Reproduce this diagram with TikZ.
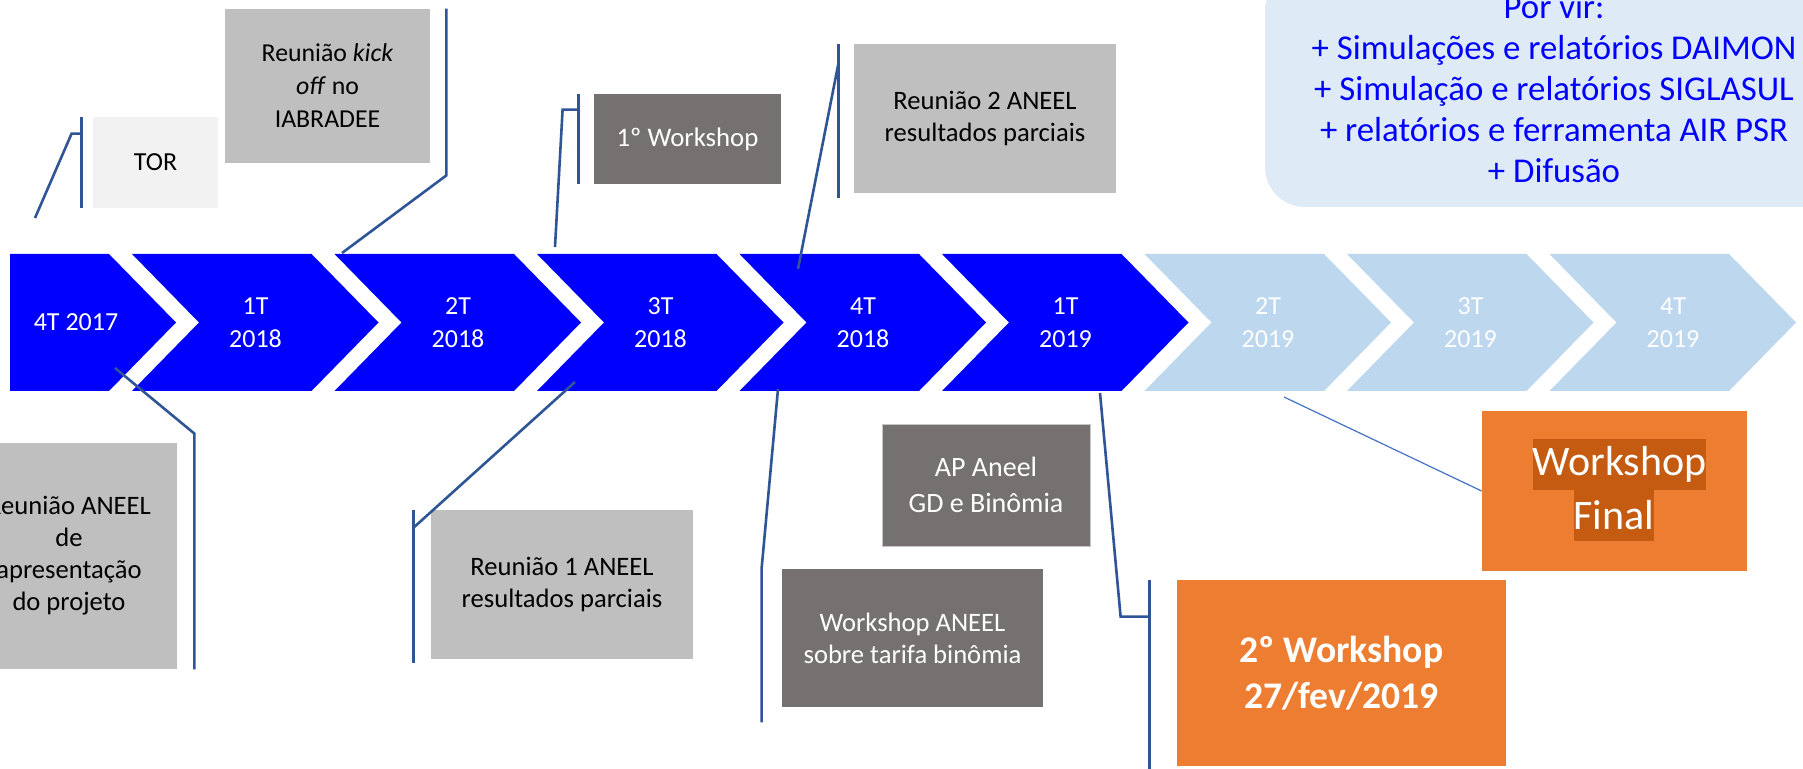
\documentclass[tikz,border=0pt]{standalone}
\usepackage{fontspec}
\setmainfont{Carlito}
\definecolor{boxgray}{HTML}{BFBFBF}
\definecolor{boxdark}{HTML}{767171}
\definecolor{boxorange}{HTML}{ED7D31}
\definecolor{hilite}{HTML}{C55A11}
\definecolor{torgray}{HTML}{F2F2F2}
\definecolor{leadblue}{HTML}{2F5597}
\definecolor{thinblue}{HTML}{4472C4}
\definecolor{palechev}{HTML}{BDD7EE}
\definecolor{futurebg}{HTML}{DEEBF7}
\tikzset{
  box/.style={rectangle, inner sep=0pt, align=center, font=\fontsize{13.3}{16}\selectfont},
  lightbox/.style={box, fill=boxgray},
  darkbox/.style={box, fill=boxdark, text=white},
  orangebox/.style={box, fill=boxorange, text=white},
  hl/.style={rectangle, inner sep=0pt, fill=hilite, text=white, font=\fontsize{21}{24.5}\selectfont},
  chevlabel/.style={align=center, text=white, font=\fontsize{13}{16.5}\selectfont},
  bar/.style={draw=leadblue, line width=1.3pt},
  thinlead/.style={draw=thinblue, line width=0.6pt}
}
\begin{document}
\begin{tikzpicture}[x=0.5pt,y=-0.5pt]
\path[use as bounding box] (0,0) rectangle (1803,769);
\clip (0,0) rectangle (1803,769);
\fill[white] (0,0) rectangle (1803,769);

\fill[blue] (10,254) -- (109,254) -- (176,322.5) -- (109,391) -- (10,391) -- cycle;
\node[chevlabel] (q0) at (76,322.5) {4T 2017};
\foreach \k/\lab/\col in {1/{1T\\2018}/blue,2/{2T\\2018}/blue,3/{3T\\2018}/blue,4/{4T\\2018}/blue,5/{1T\\2019}/blue,6/{2T\\2019}/palechev,7/{3T\\2019}/palechev,8/{4T\\2019}/palechev}{
  \pgfmathsetmacro\xt{176+202.5*\k}
  \fill[\col] (\xt-246.5,254) -- (\xt-67,254) -- (\xt,322.5) -- (\xt-67,391) -- (\xt-246.5,391) -- (\xt-179.5,322.5) -- cycle;
  \node[chevlabel] (q\k) at (\xt-123,322.5) {\lab};
}

\node[box, fill=futurebg, rounded corners=20pt, text=blue, font=\fontsize{17.4}{20.5}\selectfont, minimum width=289pt, minimum height=118pt] (future) at (1554,89) {Por vir:\\+ Simulações e relatórios DAIMON\\+ Simulação e relatórios SIGLASUL\\+ relatórios e ferramenta AIR PSR\\+ Difusão};

\node[box, fill=torgray, font=\fontsize{13}{16}\selectfont, minimum width=62.5pt, minimum height=45.5pt] (tor) at (155.5,162.5) {TOR};
\node[lightbox, font=\fontsize{12.9}{16.5}\selectfont, minimum width=102.5pt, minimum height=77pt] (kick) at (327.5,86) {Reunião \textit{kick}\\\textit{off} no\\IABRADEE};
\node[darkbox, font=\fontsize{13.4}{16}\selectfont, minimum width=93.5pt, minimum height=45pt] (ws1) at (687.5,139) {1º Workshop};
\node[lightbox, minimum width=131pt, minimum height=74.5pt] (reun2) at (985,118.5) {Reunião 2 ANEEL\\resultados parciais};
\node[lightbox, minimum width=108pt, minimum height=113pt] (apres) at (69,556) {Reunião ANEEL\\de\\apresentação\\do projeto};
\node[lightbox, minimum width=131pt, minimum height=74.5pt] (reun1) at (562,584.5) {Reunião 1 ANEEL\\resultados parciais};
\node[darkbox, minimum width=130.5pt, minimum height=69pt] (wsan) at (912.5,638) {Workshop ANEEL\\sobre tarifa binômia};
\node[darkbox, draw=gray!45, font=\fontsize{14}{18.3}\selectfont, minimum width=104pt, minimum height=61pt] (ap) at (986,485) {AP Aneel\\GD e Binômia};
\node[orangebox, font=\fontsize{18.8}{23}\selectfont\bfseries, minimum width=164.5pt, minimum height=93pt] (ws2) at (1341.5,673) {2º Workshop\\27/fev/2019};
\node[orangebox, minimum width=132.5pt, minimum height=80pt] (final) at (1614.5,491) {};
\node[hl, minimum height=25.5pt] (finalA) at (1619.5,464.5) {Workshop\ };
\node[hl, minimum height=25.5pt] (finalB) at (1614,515.5) {Final};

\coordinate (tTor) at (35,218);
\coordinate (tKick) at (342,253);
\coordinate (tWs1) at (555,247);
\coordinate (tReun2) at (798,269);
\coordinate (tApres) at (115,368);
\coordinate (tReun1) at (575,382);
\coordinate (tWsan) at (778,389);
\coordinate (tWs2) at (1100,393);
\coordinate (tFinal) at (1284,397);

\draw[bar] ([xshift=-5.5pt]tor.north west) -- ([xshift=-5.5pt]tor.south west);
\draw[bar] ([xshift=-5.5pt,yshift=-8.5pt]tor.north west) -- ++(-10,0) -- (tTor);
\draw[bar] ([xshift=8pt]kick.north east) -- ([xshift=8pt,yshift=-6pt]kick.south east) -- (tKick);
\draw[bar] ([xshift=-7.5pt]ws1.north west) -- ([xshift=-7.5pt]ws1.south west);
\draw[bar] ([xshift=-7.5pt,yshift=-8pt]ws1.north west) -- ++(-16,0) -- (tWs1);
\draw[bar] ([xshift=-7.5pt]reun2.north west) -- ([xshift=-7.5pt,yshift=-2.5pt]reun2.south west);
\draw[bar] ([xshift=-7.5pt,yshift=-9.5pt]reun2.north west) -- (tReun2);
\draw[bar] (tApres) -- ([xshift=8.5pt,yshift=4.5pt]apres.north east) -- ([xshift=8.5pt]apres.south east);
\draw[bar] ([xshift=-8.5pt]reun1.north west) -- ([xshift=-8.5pt,yshift=-2pt]reun1.south west);
\draw[bar] ([xshift=-8.5pt,yshift=-9pt]reun1.north west) -- (tReun1);
\draw[bar] (tWsan) -- ([xshift=-10pt]wsan.north west) -- ([xshift=-10pt,yshift=-7.5pt]wsan.south west);
\draw[bar] ([xshift=-13.5pt]ws2.north west) -- ([xshift=-13.5pt,yshift=-2pt]ws2.south west);
\draw[bar] (tWs2) -- ([xshift=-28pt,yshift=-18.5pt]ws2.north west) -- ([xshift=-13.5pt,yshift=-18.5pt]ws2.north west);
\draw[thinlead] (tFinal) -- (final.west);
\end{tikzpicture}
\end{document}
